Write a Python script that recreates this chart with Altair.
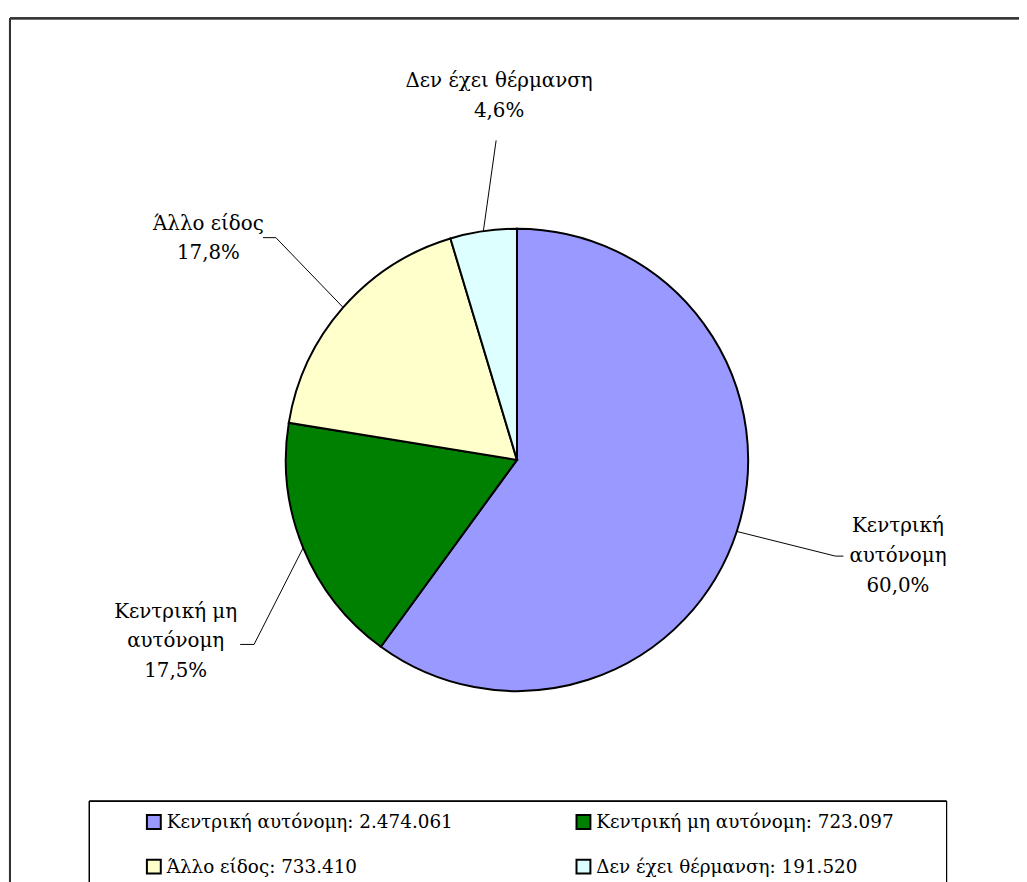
import altair as alt
import pandas as pd
import numpy as np

# ---------------- data ----------------
categories = ["Κεντρική αυτόνομη", "Κεντρική μη αυτόνομη", "Άλλο είδος", "Δεν έχει θέρμανση"]
values = [2474061, 723097, 733410, 191520]
colors = ["#9999FF", "#008000", "#FFFFCC", "#DDFFFF"]
label_lines = [["Κεντρική", "αυτόνομη"], ["Κεντρική μη", "αυτόνομη"], ["Άλλο είδος"], ["Δεν έχει θέρμανση"]]

# ---------------- layout (page px) ----------------
W, H = 1019, 874
CX, CY, R = 521, 460, 233
label_cx = [905, 177, 210, 503]
label_cy = [557, 643, 237, 93]
LH = 30
elbows = [(842, 557), (256, 646), (278, 236), (500, 138)]
ends = [(850, 557), (242, 646), (265, 236), (500, 138)]
leg_sym_x = [155, 588, 155, 588]
leg_sym_y = [825, 825, 870, 870]
FONT = "DejaVu Serif"
FS_LABEL = 20
FS_LEG = 18.5

total = sum(values)
pcts = [f"{v / total * 100:.1f}".replace(".", ",") + "%" for v in values]
leg_labels = [f"{c}: {v:,}".replace(",", ".") for c, v in zip(categories, values)]

pie_df = pd.DataFrame({"category": categories, "value": values, "idx": range(len(values))})

# label lines
rows = []
for i, lines in enumerate(label_lines):
    all_lines = lines + [pcts[i]]
    n = len(all_lines)
    for j, t in enumerate(all_lines):
        rows.append({"x": label_cx[i], "y": label_cy[i] + (j - (n - 1) / 2) * LH, "text": t})
lab_df = pd.DataFrame(rows)

# leader lines from slice mid-angles
cum = np.cumsum([0] + values[:-1])
lead = []
for i, v in enumerate(values):
    mid = (cum[i] + v / 2) / total * 2 * np.pi
    sx = CX + R * np.sin(mid)
    sy = CY - R * np.cos(mid)
    pts = [(sx, sy), elbows[i], ends[i]]
    for k, (px, py) in enumerate(pts):
        lead.append({"slice": i, "k": k, "x": px, "y": py})
lead_df = pd.DataFrame(lead)

leg_df = pd.DataFrame({"category": categories, "label": leg_labels, "x": leg_sym_x, "y": leg_sym_y})

xs = alt.Scale(domain=[8, 8 + W], range=[0, W], nice=False, zero=False)
ys = alt.Scale(domain=[8, 8 + H], range=[0, H], nice=False, zero=False)
cs = alt.Scale(domain=categories, range=colors)

pie = alt.Chart(pie_df).mark_arc(stroke="black", strokeWidth=2, radius=R).encode(
    theta=alt.Theta("value:Q", stack=True),
    order=alt.Order("idx:Q"),
    color=alt.Color("category:N", scale=cs, legend=None),
    x=alt.value(CX - 8),
    y=alt.value(CY - 8),
)

leaders = alt.Chart(lead_df).mark_line(color="black", strokeWidth=1).encode(
    x=alt.X("x:Q", scale=xs, axis=None),
    y=alt.Y("y:Q", scale=ys, axis=None),
    detail="slice:N",
    order="k:Q",
)

labels = alt.Chart(lab_df).mark_text(font=FONT, fontSize=FS_LABEL, color="black", align="center", baseline="middle").encode(
    x=alt.X("x:Q", scale=xs, axis=None),
    y=alt.Y("y:Q", scale=ys, axis=None),
    text="text:N",
)

frame_top = alt.Chart(pie_df).mark_rule(color="#333333", strokeWidth=2).encode(
    x=alt.value(2), x2=alt.value(W + 5), y=alt.value(7)
)
frame_left = alt.Chart(pie_df).mark_rule(color="#333333", strokeWidth=2).encode(
    x=alt.value(2), y=alt.value(7), y2=alt.value(H + 5)
)
legend_box = alt.Chart(pie_df).mark_rect(fill=None, stroke="black", strokeWidth=1).encode(
    x=alt.value(90 - 8), x2=alt.value(954 - 8), y=alt.value(804 - 8), y2=alt.value(H + 20)
)

leg_sym = alt.Chart(leg_df).mark_square(size=196, stroke="black", strokeWidth=2, opacity=1).encode(
    x=alt.X("x:Q", scale=xs, axis=None),
    y=alt.Y("y:Q", scale=ys, axis=None),
    color=alt.Color("category:N", scale=cs, legend=None),
)
leg_txt = alt.Chart(leg_df).mark_text(font=FONT, fontSize=FS_LEG, color="black", align="left", baseline="middle", dx=13).encode(
    x=alt.X("x:Q", scale=xs, axis=None),
    y=alt.Y("y:Q", scale=ys, axis=None),
    text="label:N",
)

chart = alt.layer(frame_top, frame_left, legend_box, pie, leaders, labels, leg_sym, leg_txt).properties(
    width=W, height=H, padding=0, autosize=alt.AutoSizeParams(type="none")
).configure_view(stroke=None)

chart.save("out.html", embed_options={"renderer": "svg", "actions": False})
